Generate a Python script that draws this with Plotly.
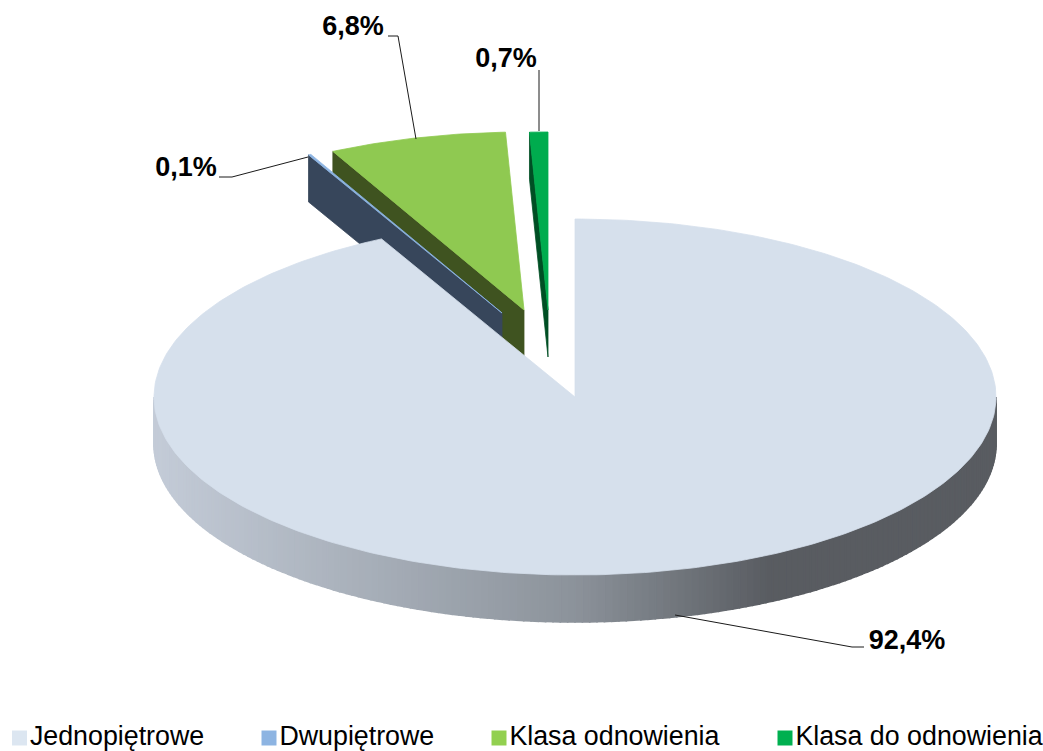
import numpy as np
import plotly.graph_objects as go

# ---- data ----
categories = ["Jednopiętrowe", "Dwupiętrowe", "Klasa odnowienia", "Klasa do odnowienia"]
values = [92.4, 0.1, 6.8, 0.7]
legend_colors = ["#DCE6F1", "#8DB4E2", "#92D050", "#00B050"]
face_colors = ["#D6E0EC", "#8DB4E2", "#8FC951", "#00AC4E"]
wall_colors = [None, "#37465B", "#3F5320", "#004F24"]

# ---- layout of the projected pie (axis units = window pixels) ----
W, H = 1043, 751
CX, CY, RX, RY, DEPTH = 575, 397, 421, 178, 47
offsets = [(0, 0), (-73, -84), (-51, -87), (-27, -87)]
draw_order = [3, 2, 1]

legend_x = [19.5, 269, 499, 785]
legend_y = 738
label_pos = [(907, 642), (186, 169), (353, 28), (506, 60)]
leaders = [
    ([675, 852, 864], [615, 647, 647]),
    ([308, 232, 219], [157, 177, 177]),
    ([416, 398, 388], [139, 36, 36]),
    ([539, 539], [131, 70]),
]

# cumulative clockwise angles from 12 o'clock
ends = np.cumsum(values) / sum(values) * 2 * np.pi
starts = np.concatenate([[0], ends[:-1]])


def rim(a, dx=0, dy=0, dz=0):
    return CX + dx + RX * np.sin(a), CY + dy + dz - RY * np.cos(a)


def poly(x, y, color, name, width=0.8):
    return go.Scatter(
        x=list(x), y=list(y), mode="lines", fill="toself", fillcolor=color,
        line=dict(color=color, width=width), hoverinfo="skip", showlegend=False, name=name,
    )


def shade(x):
    stops = np.array([[154, 0xC4, 0xCC, 0xD8], [575, 0x8C, 0x93, 0x9B], [770, 0x59, 0x5C, 0x61], [996, 0x59, 0x5C, 0x61]])
    return "rgb(%d,%d,%d)" % tuple(np.interp(x, stops[:, 0], stops[:, i]) for i in (1, 2, 3))


fig = go.Figure()

# exploded slices: wall of the leading radial edge, then the top face
for i in draw_order:
    dx, dy = offsets[i]
    ox, oy = rim(starts[i], dx, dy)
    ax, ay = CX + dx, CY + dy
    fig.add_trace(poly([ax, ox, ox, ax, ax], [ay, oy, oy + DEPTH, ay + DEPTH, ay], wall_colors[i], categories[i] + " wall"))
    t = np.linspace(starts[i], ends[i], 40)
    xs, ys = rim(t, dx, dy)
    fig.add_trace(poly(np.r_[ax, xs, ax], np.r_[ay, ys, ay], face_colors[i], categories[i]))

# main slice: gradient wall along the front half of the rim
edges = np.linspace(np.pi / 2, 3 * np.pi / 2, 181)
for a0, a1 in zip(edges[:-1], edges[1:]):
    x0, y0 = rim(a0)
    x1, y1 = rim(a1)
    fig.add_trace(poly([x0, x1, x1, x0, x0], [y0, y1, y1 + DEPTH, y0 + DEPTH, y0], shade((x0 + x1) / 2), "wall", width=1.6))

t = np.linspace(starts[0], ends[0], 360)
xs, ys = rim(t)
fig.add_trace(poly(np.r_[CX, xs, CX], np.r_[CY, ys, CY], face_colors[0], categories[0]))

# leader lines
for lx, ly in leaders:
    fig.add_trace(go.Scatter(x=lx, y=ly, mode="lines", line=dict(color="#1A1A1A", width=1), hoverinfo="skip", showlegend=False))

# percentage labels
labels = [f"{v:.1f}%".replace(".", ",") for v in values]
fig.add_trace(go.Scatter(
    x=[p[0] for p in label_pos], y=[p[1] for p in label_pos], text=labels, mode="text",
    textposition="middle center", hoverinfo="skip", showlegend=False,
    textfont=dict(family="Liberation Sans", size=27, color="#000000", weight="bold"),
))

# legend row
for name, color, lx in zip(categories, legend_colors, legend_x):
    fig.add_trace(go.Scatter(
        x=[lx], y=[legend_y], text=[name], mode="markers+text", textposition="middle right",
        marker=dict(symbol="square", size=15, color=color, line=dict(width=0)),
        textfont=dict(family="Liberation Sans", size=26.8, color="#000000"),
        hoverinfo="skip", showlegend=False, name=name, cliponaxis=False,
    ))

fig.update_layout(
    width=W, height=H, margin=dict(l=0, r=0, t=0, b=0),
    paper_bgcolor="white", plot_bgcolor="white", showlegend=False,
    xaxis=dict(range=[0, W], visible=False, fixedrange=True),
    yaxis=dict(range=[H, 0], visible=False, fixedrange=True),
)
fig.write_html(
    "out.html", default_width=f"{W}px", default_height=f"{H}px",
    config=dict(displayModeBar=False),
    post_script="document.body.style.margin='0';document.body.style.overflow='hidden';",
)
